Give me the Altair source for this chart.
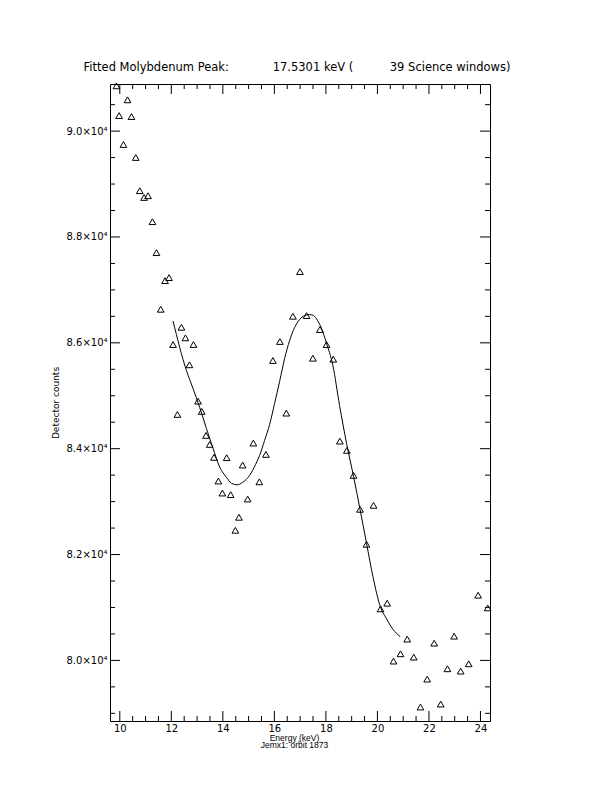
import altair as alt
import pandas as pd

# ---- data ----
energy = [9.872, 9.973, 10.143, 10.299, 10.454, 10.620, 10.775, 10.942, 11.097, 11.268,
          11.423, 11.590, 11.756, 11.912, 12.067, 12.237, 12.392, 12.547, 12.703, 12.858,
          13.036, 13.180, 13.346, 13.490, 13.656, 13.827, 13.982, 14.149, 14.304, 14.486,
          14.626, 14.769, 14.963, 15.184, 15.417, 15.673, 15.944, 16.216, 16.464, 16.720,
          16.991, 17.251, 17.495, 17.767, 18.026, 18.286, 18.542, 18.814, 19.073, 19.325,
          19.577, 19.849, 20.120, 20.380, 20.624, 20.896, 21.156, 21.411, 21.671, 21.931,
          22.202, 22.458, 22.718, 22.978, 23.234, 23.544, 23.909, 24.281]
counts = [90855, 90294, 89747, 90591, 90275, 89502, 88874, 88747, 88779, 88289,
          87704, 86634, 87175, 87232, 85968, 84647, 86294, 86094, 85585, 85968,
          84898, 84704, 84251, 84081, 83836, 83389, 83162, 83830, 83132, 82458,
          82704, 83691, 83049, 84106, 83374, 83892, 85666, 86025, 84672, 86502,
          87345, 86515, 85709, 86251, 85968, 85691, 84143, 83968, 83496, 82855,
          82194, 82930, 80974, 81081, 79987, 80125, 80402, 80062, 79119, 79647,
          80326, 79175, 79842, 80458, 79798, 79936, 81232, 80992]

fit_energy = [12.067, 12.586, 12.842, 13.102, 13.362, 13.606, 13.878, 14.137, 14.343, 14.548,
              14.769, 15.041, 15.273, 15.429, 15.622, 15.816, 16.010, 16.204, 16.398, 16.592,
              16.786, 16.979, 17.173, 17.367, 17.522, 17.677, 17.832, 18.015, 18.271, 18.530,
              18.802, 19.073, 19.325, 19.577, 19.822, 20.120, 20.341, 20.597, 20.884]
fit_counts = [86411, 85477, 85138, 84779, 84383, 84025, 83653, 83459, 83345, 83317,
              83364, 83496, 83704, 83874, 84157, 84459, 84855, 85270, 85704, 86043,
              86289, 86440, 86515, 86534, 86515, 86421, 86270, 86006, 85572, 84818,
              84100, 83477, 82855, 82213, 81591, 81006, 80798, 80591, 80449]

x_domain = [9.62, 24.37]
y_domain = [78855, 90890]
x_major = [10, 12, 14, 16, 18, 20, 22, 24]
x_minor = [10.5, 11, 11.5, 12.5, 13, 13.5, 14.5, 15, 15.5, 16.5, 17, 17.5,
           18.5, 19, 19.5, 20.5, 21, 21.5, 22.5, 23, 23.5]
y_major = [80000, 82000, 84000, 86000, 88000, 90000]
y_minor = [79000, 79500, 80500, 81000, 81500, 82500, 83000, 83500, 84500, 85000, 85500,
           86500, 87000, 87500, 88500, 89000, 89500, 90500]

title_text = ("Fitted Molybdenum Peak:" + "\u00a0" * 12 + "17.5301 keV (" + "\u00a0" * 10
              + "39 Science windows)")

W, H = 380, 637

pts = pd.DataFrame({"energy": energy, "counts": counts})
fit = pd.DataFrame({"energy": fit_energy, "counts": fit_counts})
xmaj = pd.DataFrame({"energy": x_major})
xmin = pd.DataFrame({"energy": x_minor})
ymaj = pd.DataFrame({"counts": y_major})
ymin = pd.DataFrame({"counts": y_minor})

xs = alt.Scale(domain=x_domain, nice=False, zero=False)
ys = alt.Scale(domain=y_domain, nice=False, zero=False)

points = alt.Chart(pts).mark_point(
    shape="triangle-up", filled=False, color="black", size=45, strokeWidth=1, opacity=1
).encode(
    x=alt.X("energy:Q", scale=xs,
            axis=alt.Axis(orient="bottom", values=x_major, ticks=False, tickSize=0,
                          domain=False, grid=False, labelFlush=False,
                          labelFont="DejaVu Sans", labelFontSize=10, labelColor="black",
                          labelPadding=2,
                          title=["Energy (keV)", "Jemx1: orbit 1873"],
                          titleFont="Liberation Sans", titleFontSize=8.5,
                          titleFontWeight="normal", titleColor="black", titleLineHeight=7,
                          titleX=184, titleY=19, titleAlign="center",
                          titleBaseline="alphabetic")),
    y=alt.Y("counts:Q", scale=ys,
            axis=alt.Axis(orient="left", values=y_major, ticks=False, tickSize=0,
                          domain=False, grid=False, labelFlush=False,
                          labelExpr="format(datum.value / 10000, '.1f') + '×10⁴'",
                          labelFont="DejaVu Sans", labelFontSize=10, labelColor="black",
                          labelPadding=3, title="Detector counts",
                          titleFont="DejaVu Sans", titleFontSize=9,
                          titleFontWeight="normal", titleColor="black", titlePadding=5)),
)

curve = alt.Chart(fit).mark_line(color="black", strokeWidth=1, interpolate="monotone").encode(
    x=alt.X("energy:Q", scale=xs, axis=None),
    y=alt.Y("counts:Q", scale=ys, axis=None),
)


def xticks(df, ypos, length):
    return alt.Chart(df).mark_tick(color="black", size=length, thickness=1, opacity=1).encode(
        x=alt.X("energy:Q", scale=xs, axis=None), y=alt.value(ypos))


def yticks(df, xpos, length):
    return alt.Chart(df).mark_tick(color="black", size=length, thickness=1, opacity=1,
                                   orient="horizontal").encode(
        y=alt.Y("counts:Q", scale=ys, axis=None), x=alt.value(xpos))


tick_layers = [
    xticks(xmaj, H - 5, 10), xticks(xmin, H - 2.5, 5),
    xticks(xmaj, 5, 10), xticks(xmin, 2.5, 5),
    yticks(ymaj, 5, 10), yticks(ymin, 2.5, 5),
    yticks(ymaj, W - 5, 10), yticks(ymin, W - 2.5, 5),
]

chart = alt.layer(points, curve, *tick_layers).resolve_axis(
    x="independent", y="independent"
).properties(
    width=W,
    height=H,
    title=alt.TitleParams(text=title_text, font="DejaVu Sans", fontSize=11.5,
                          fontWeight="normal", color="black", anchor="middle",
                          frame="group", baseline="alphabetic", offset=13, dx=-3, dy=15),
    autosize=alt.AutoSizeParams(type="none"),
    padding={"left": 102, "top": 76, "right": 100, "bottom": 60},
    background="white",
).configure_view(stroke="black", strokeWidth=1)

chart.save("out.html", embed_options={"renderer": "svg", "actions": False})
